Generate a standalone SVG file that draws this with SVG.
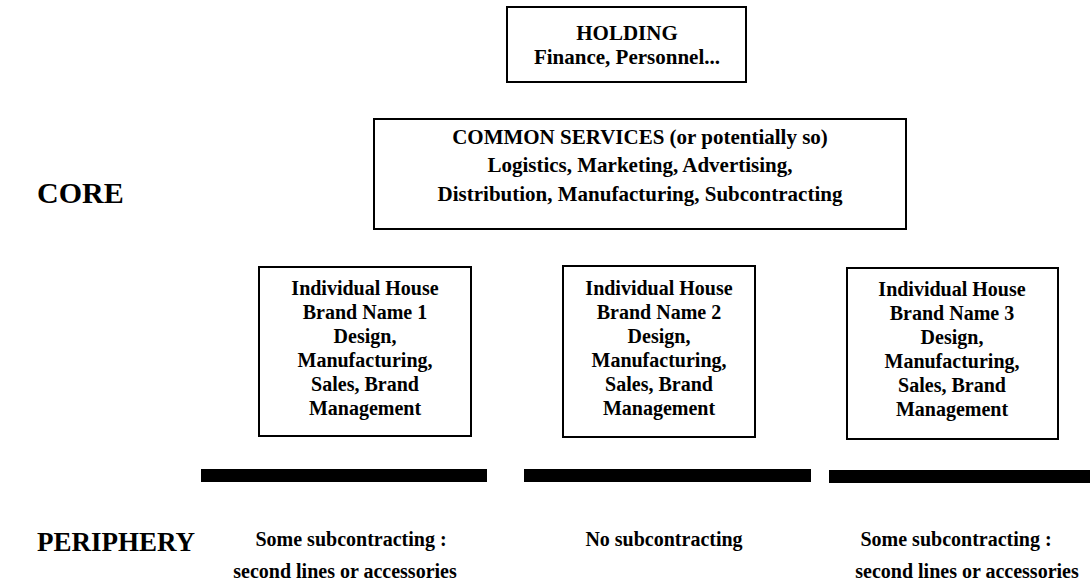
<svg xmlns="http://www.w3.org/2000/svg" width="1090" height="583" viewBox="0 0 1090 583">
<style>
.box{fill:#fff;stroke:#000;stroke-width:2}
.t{font-family:"Liberation Serif","Times New Roman",serif;font-weight:bold;fill:#000;text-anchor:middle}
.m{font-size:21px}
.b{font-size:20px}
.lab{font-family:"Liberation Serif","Times New Roman",serif;font-weight:bold;fill:#000;font-size:27px}
.bar{fill:#000}
</style>
<rect width="1090" height="583" fill="#fff"/>
<g id="holding">
<rect class="box" x="507" y="7" width="239" height="75"/>
<text class="t m" x="627" y="40">HOLDING</text>
<text class="t m" x="627" y="64">Finance, Personnel...</text>
</g>
<g id="common">
<rect class="box" x="374" y="119" width="532" height="110"/>
<text class="t m" x="640" y="144">COMMON SERVICES (or potentially so)</text>
<text class="t m" x="640" y="172">Logistics, Marketing, Advertising,</text>
<text class="t m" x="640" y="201">Distribution, Manufacturing, Subcontracting</text>
</g>
<g id="core-label"><text class="lab" x="37" y="203" style="font-size:30px">CORE</text></g>
<g id="periphery-label"><text class="lab" x="37" y="551">PERIPHERY</text></g>
<g id="house1">
<rect class="box" x="259" y="267" width="212" height="169"/>
<text class="t b" x="365" y="295">Individual House</text>
<text class="t b" x="365" y="319">Brand Name 1</text>
<text class="t b" x="365" y="343">Design,</text>
<text class="t b" x="365" y="367">Manufacturing,</text>
<text class="t b" x="365" y="391">Sales, Brand</text>
<text class="t b" x="365" y="415">Management</text>
</g>
<g id="house2">
<rect class="box" x="563" y="266" width="192" height="171"/>
<text class="t b" x="659" y="295">Individual House</text>
<text class="t b" x="659" y="319">Brand Name 2</text>
<text class="t b" x="659" y="343">Design,</text>
<text class="t b" x="659" y="367">Manufacturing,</text>
<text class="t b" x="659" y="391">Sales, Brand</text>
<text class="t b" x="659" y="415">Management</text>
</g>
<g id="house3">
<rect class="box" x="847" y="268" width="211" height="171"/>
<text class="t b" x="952" y="296">Individual House</text>
<text class="t b" x="952" y="320">Brand Name 3</text>
<text class="t b" x="952" y="344">Design,</text>
<text class="t b" x="952" y="368">Manufacturing,</text>
<text class="t b" x="952" y="392">Sales, Brand</text>
<text class="t b" x="952" y="416">Management</text>
</g>
<g id="connectors">
<rect class="bar" x="201" y="469" width="286" height="13"/>
<rect class="bar" x="524" y="469" width="287" height="13"/>
<rect class="bar" x="829" y="470" width="261" height="13"/>
</g>
<g id="periph1">
<text class="t b" x="351" y="546">Some subcontracting :</text>
<text class="t b" x="345" y="578">second lines or accessories</text>
</g>
<g id="periph2">
<text class="t b" x="664" y="546">No subcontracting</text>
</g>
<g id="periph3">
<text class="t b" x="956" y="546">Some subcontracting :</text>
<text class="t b" x="967" y="578">second lines or accessories</text>
</g>
</svg>
